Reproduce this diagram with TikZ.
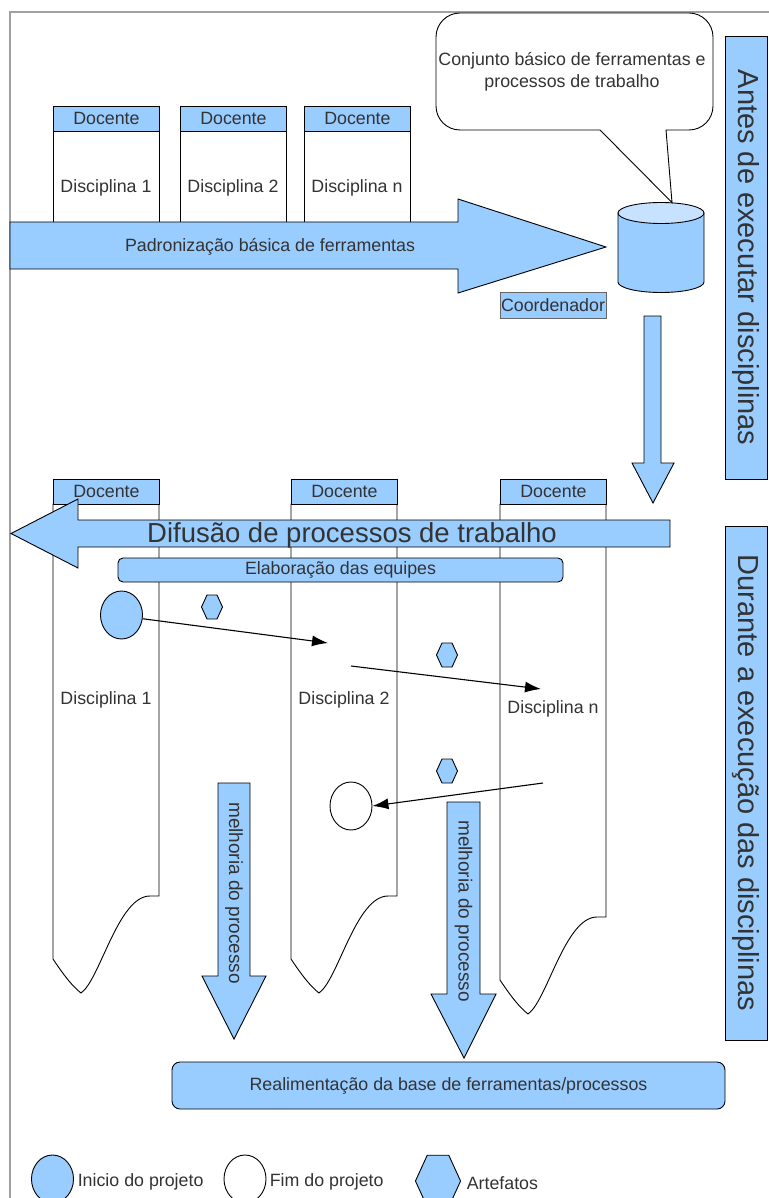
\documentclass[tikz,border=0pt]{standalone}
\usepackage{fontspec}
\setmainfont{Liberation Sans}
\usetikzlibrary{shapes.geometric,arrows.meta}

\definecolor{boxblue}{HTML}{99CCFF}
\definecolor{lidblue}{HTML}{C6E2FF}
\definecolor{txtgray}{HTML}{333333}
\definecolor{framegray}{HTML}{A0A0A0}

\tikzset{
  every node/.style={text=txtgray, font=\fontsize{17.8}{21}\selectfont},
  header/.style={draw, fill=boxblue, minimum width=106pt, minimum height=25pt, inner sep=0pt},
  bigarrow/.style={draw, fill=boxblue, line join=miter},
  phase/.style={draw, fill=boxblue, minimum height=42pt, inner sep=0pt, rotate=-90,
    font=\fontsize{29}{34}\selectfont},
  event/.style={draw, ellipse, minimum width=42pt, minimum height=48pt, inner sep=0pt},
  flow/.style={-{Latex[length=16pt,width=11pt]}, line width=1.1pt},
  vlabel/.style={rotate=-90, font=\fontsize{19}{23}\selectfont},
  artefato/.pic={\draw[fill=boxblue] (-10.5,0) -- (-5,-12) -- (5,-12) -- (10.5,0) -- (5,12) -- (-5,12) -- cycle;}
}

\begin{document}
\begin{tikzpicture}[x=1pt,y=-1pt,line width=0.9pt]
\useasboundingbox (0,0) rectangle (768,1198);
% frame
\draw[framegray, line width=1.4pt] (10,1210) -- (10,12) -- (780,12);

% top disciplines
\foreach \x/\n in {53/1, 180/2, 304/n}{
  \draw[fill=white] (\x,131) rectangle ++(106,114);
  \node[header, anchor=north west] (tdoc\n) at (\x,106) {Docente};
  \node (tdisc\n) at (\x+53,188) {Disciplina \n};
}

% standardisation arrow
\draw[bigarrow] (10,222) -- (458,222) -- (458,199) -- (606,247) -- (458,293) -- (458,269) -- (10,269) -- cycle;
\node (padr) at (270,247) {Padronização básica de ferramentas};

% tool base (cylinder)
\node[minimum width=86pt, minimum height=90pt, inner sep=0pt] (base) at (661,247) {};
\draw[fill=boxblue] (618,213) -- (618,282) arc[start angle=180, end angle=0, x radius=43, y radius=10.5] -- (704,213) -- cycle;
\draw[fill=lidblue] (661,213) ellipse[x radius=43, y radius=10.5];
\node[draw=black!60, line width=0.6pt, fill=boxblue, minimum width=106pt, minimum height=26pt, inner sep=0pt] (coord) at (553,305) {Coordenador};

% speech bubble
\draw[fill=white] ([xshift=11pt,yshift=-1pt]base.north) -- (600,130) [rounded corners=24pt] -- (436,130) -- (436,13)
  -- (713,13) -- (713,130) [sharp corners] -- (666,130) -- cycle;
\node[align=center, font=\fontsize{17.8}{22}\selectfont] (conj) at (572,72) {Conjunto básico de ferramentas e\\processos de trabalho};

% phases
\node[phase, minimum width=443pt] (antes) at (746,257.5) {Antes de executar disciplinas};
\node[phase, minimum width=514pt] (durante) at (746,783) {Durante a execução das disciplinas};

% down arrow
\draw[bigarrow] (644,316) -- (661,316) -- (661,463) -- (674,463) -- (653,503) -- (632,463) -- (644,463) -- cycle;

% disciplines during execution
\foreach \x/\n/\d/\ly in {53/1/0/700, 291/2/0/700, 500/n/21/709}{
  \draw[fill=white] (\x,504) -- (\x,959+\d) .. controls (\x+10,974+\d) and (\x+19,986+\d) .. (\x+28,993+\d)
    .. controls (\x+47,980+\d) and (\x+65,896+\d) .. (\x+97,896+\d) -- (\x+106,896+\d) -- (\x+106,504) -- cycle;
  \node[header, anchor=north west] (bdoc\n) at (\x,479) {Docente};
  \node (bdisc\n) at (\x+53,\ly) {Disciplina \n};
}

% diffusion arrow
\draw[bigarrow] (670,520) -- (78,520) -- (78,499) -- (11,533.5) -- (78,568) -- (78,547) -- (670,547) -- cycle;
\node[font=\fontsize{27.5}{32}\selectfont, anchor=base] (difu) at (352,542) {Difusão de processos de trabalho};

\node[draw, fill=boxblue, rounded corners=5pt, minimum width=445pt, minimum height=24pt, inner sep=0pt] (equipes) at (340.5,570) {Elaboração das equipes};

% project events
\node[event, fill=boxblue] (ini) at (121.5,615) {};
\node[event, fill=white] (fim) at (351,806) {};
\pic at (212,607) {artefato};
\pic at (447,655) {artefato};
\pic at (447,771) {artefato};

\coordinate (a1) at (328,643);
\coordinate (b0) at (351,666);
\coordinate (b1) at (541,689);
\coordinate (c0) at (543,783);
\draw[flow] (ini.-10) -- (a1);
\draw[flow] (b0) -- (b1);
\draw[flow] (c0) -- (fim.east);

% improvement arrows
\draw[bigarrow] (218,783) -- (250,783) -- (250,976) -- (266,976) -- (234,1039) -- (202,976) -- (218,976) -- cycle;
\node[vlabel] (melh1) at (234,893) {melhoria do processo};
\draw[bigarrow] (447,802) -- (480,802) -- (480,994) -- (496,994) -- (464,1058) -- (431,994) -- (447,994) -- cycle;
\node[vlabel] (melh2) at (463.5,911) {melhoria do processo};

\node[draw, fill=boxblue, rounded corners=8pt, minimum width=553pt, minimum height=47pt, inner sep=0pt] (realim) at (448.5,1085.5) {Realimentação da base de ferramentas/processos};

% legend
\node[event, fill=boxblue] (legini) at (52.5,1179) {};
\node[anchor=west] (legtxt1) at (74,1182) {Inicio do projeto};
\node[event, fill=white] (legfim) at (245,1179) {};
\node[anchor=west] (legtxt2) at (266,1182) {Fim do projeto};
\pic[scale=2.15] at (438,1181) {artefato};
\node[anchor=west] (legtxt3) at (463,1183) {Artefatos};
\end{tikzpicture}
\end{document}
